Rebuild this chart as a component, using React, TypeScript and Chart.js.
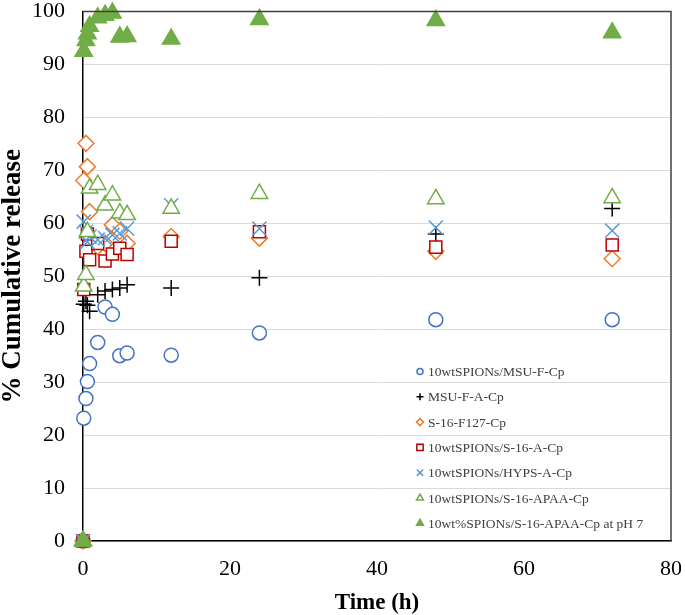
import { useEffect, useRef } from 'react';
import { Chart, registerables } from 'chart.js';
import { drawPoint } from 'chart.js/helpers';

Chart.register(...registerables);

// ---- data ----
const TIME = [0, 0.1, 0.4, 0.6, 0.9, 2, 3, 4, 5, 6, 12, 24, 48, 72];

const SERIES_NAMES = [
  '10wtSPIONs/MSU-F-Cp',
  'MSU-F-A-Cp',
  'S-16-F127-Cp',
  '10wtSPIONs/S-16-A-Cp',
  '10wtSPIONs/HYPS-A-Cp',
  '10wtSPIONs/S-16-APAA-Cp',
  '10wt%SPIONs/S-16-APAA-Cp at pH 7',
];

const SPION_MSU_F = [0, 23.2, 26.9, 30.1, 33.5, 37.5, 44.2, 42.8, 35.0, 35.5, 35.1, 39.3, 41.8, 41.8];
const MSU_F_A = [0, 44.7, 45.3, 44.5, 43.4, 46.5, 47.2, 47.5, 47.8, 48.4, 47.8, 49.7, 58.0, 62.8];
const S16_F127 = [0, 68.1, 75.1, 70.7, 62.2, 55.6, 56.2, 59.7, 58.5, 56.2, 57.5, 57.2, 54.7, 53.3];
const SPION_S16_A = [0, 47.5, 54.7, 58.0, 53.1, 56.2, 52.9, 54.2, 55.3, 54.1, 56.6, 58.4, 55.5, 55.9];
const SPION_HYPS_A = [0, 60.3, 58.4, 56.5, 57.5, 56.9, 57.2, 57.8, 58.1, 59.0, 63.4, 59.0, 59.2, 58.6];
const SPION_S16_APAA = [0, 48.1, 50.3, 58.4, 66.6, 67.3, 63.4, 65.3, 61.9, 61.6, 62.8, 65.6, 64.6, 64.8];
const SPION_S16_APAA_PH7 = [0, 92.5, 94.5, 95.8, 97.2, 98.8, 99.3, 99.7, 95.2, 95.3, 94.8, 98.5, 98.3, 96.0];

const X_TICKS = [0, 20, 40, 60, 80];
const Y_TICKS = [0, 10, 20, 30, 40, 50, 60, 70, 80, 90, 100];

const SERIES_VALUES = [
  SPION_MSU_F,
  MSU_F_A,
  S16_F127,
  SPION_S16_A,
  SPION_HYPS_A,
  SPION_S16_APAA,
  SPION_S16_APAA_PH7,
];

// ---- styles ----
const STYLES = [
  { pointStyle: 'circle', radius: 7, color: '#4472C4', fill: '#FFFFFF', legendRadius: 3 },
  { pointStyle: 'cross', radius: 8, color: '#000000', fill: '#000000', legendRadius: 3.5 },
  { pointStyle: 'rectRot', radius: 8, color: '#ED7D31', fill: '#FFFFFF', legendRadius: 3.5 },
  { pointStyle: 'rect', radius: 8.5, color: '#C00000', fill: '#FFFFFF', legendRadius: 4.5 },
  { pointStyle: 'crossRot', radius: 10, color: '#5B9BD5', fill: '#5B9BD5', legendRadius: 4.5 },
  { pointStyle: 'triangle', radius: 9.5, color: '#70AD47', fill: '#FFFFFF', legendRadius: 4 },
  { pointStyle: 'triangle', radius: 10, color: '#70AD47', fill: '#70AD47', legendRadius: 4 },
];

const SERIF = "'Liberation Serif', 'Times New Roman', serif";

const zeroPad = (s: any) => {
  s.paddingTop = 0;
  s.paddingBottom = 0;
  s.paddingLeft = 0;
  s.paddingRight = 0;
};

const framePlugin = {
  id: 'frameAndLegend',
  afterDraw(chart: any) {
    const { ctx, chartArea } = chart;
    const { left, right, top, bottom } = chartArea;
    ctx.save();
    // top & right frame
    ctx.strokeStyle = '#404040';
    ctx.lineWidth = 1.5;
    ctx.beginPath();
    ctx.moveTo(left, top);
    ctx.lineTo(right, top);
    ctx.lineTo(right, bottom);
    ctx.stroke();

    // legend
    const lx = left + 337;
    const tx = left + 345;
    const y0 = bottom - 169.5;
    const step = 25.3;
    ctx.font = `13.5px ${SERIF}`;
    ctx.textBaseline = 'middle';
    ctx.textAlign = 'left';
    SERIES_NAMES.forEach((name, i) => {
      const st = STYLES[i];
      const y = y0 + i * step;
      ctx.save();
      ctx.strokeStyle = st.color;
      ctx.fillStyle = st.fill;
      ctx.lineWidth = 1.5;
      drawPoint(ctx, { pointStyle: st.pointStyle, radius: st.legendRadius, rotation: 0, borderWidth: 1.5 } as any, lx, y);
      ctx.restore();
      ctx.fillStyle = '#404040';
      ctx.fillText(name, tx, y + 1);
    });
    ctx.restore();
  },
};

export default function App() {
  const canvasRef = useRef<HTMLCanvasElement | null>(null);

  useEffect(() => {
    document.body.style.margin = '0';
    const canvas = canvasRef.current;
    if (!canvas) return;

    const datasets = SERIES_NAMES.map((name, i) => {
      const st = STYLES[i];
      return {
        label: name,
        data: TIME.map((t, j) => ({ x: t, y: SERIES_VALUES[i][j] })),
        pointStyle: st.pointStyle,
        pointRadius: st.radius,
        pointHoverRadius: st.radius,
        pointBorderWidth: 1.5,
        borderColor: st.color,
        backgroundColor: st.fill,
        pointBorderColor: st.color,
        pointBackgroundColor: st.fill,
        showLine: false,
        clip: false as any,
        order: SERIES_NAMES.length - i,
      };
    });

    const chart = new Chart(canvas, {
      type: 'scatter',
      data: { datasets } as any,
      options: {
        responsive: false,
        animation: false,
        devicePixelRatio: 1,
        layout: { padding: { top: 8, right: 14, left: 0, bottom: 0 } },
        plugins: {
          legend: { display: false },
          tooltip: { enabled: false },
        },
        scales: {
          x: {
            type: 'linear',
            min: 0,
            max: 80,
            afterFit: (s: any) => {
              s.height = 74;
              zeroPad(s);
            },
            afterBuildTicks: (s: any) => {
              s.ticks = X_TICKS.map((v) => ({ value: v }));
            },
            grid: { display: false, drawTicks: false },
            border: { display: true, color: '#000000', width: 1.5 },
            ticks: {
              color: '#000000',
              padding: 15,
              font: { family: SERIF, size: 22 },
              maxRotation: 0,
            },
            title: {
              display: true,
              text: 'Time (h)',
              color: '#000000',
              padding: 0,
              font: { family: SERIF, size: 23, weight: 'bold', lineHeight: 1 },
            },
          },
          y: {
            type: 'linear',
            min: 0,
            max: 100,
            afterFit: (s: any) => {
              s.width = 83;
              zeroPad(s);
            },
            afterBuildTicks: (s: any) => {
              s.ticks = Y_TICKS.map((v) => ({ value: v }));
            },
            grid: { color: '#D9D9D9', lineWidth: 1, drawTicks: false },
            border: { display: true, color: '#000000', width: 1.5 },
            ticks: {
              color: '#000000',
              padding: 18,
              font: { family: SERIF, size: 22 },
            },
            title: {
              display: true,
              text: '% Cumulative release',
              color: '#000000',
              padding: 0,
              font: { family: SERIF, size: 27, weight: 'bold', lineHeight: 1 },
            },
          },
        },
      } as any,
      plugins: [framePlugin],
    });

    return () => {
      chart.destroy();
    };
  }, []);

  return (
    <div style={{ width: 685, height: 615, background: '#FFFFFF' }}>
      <canvas ref={canvasRef} width={685} height={615} style={{ display: 'block' }} />
    </div>
  );
}
